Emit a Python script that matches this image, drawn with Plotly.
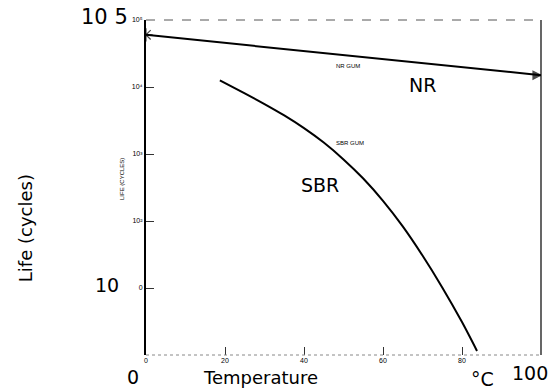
import math
import plotly.graph_objects as go

# Data
nr_temp = [0, 100]
nr_life = [60000, 15000]

sbr_temp = [18.7, 25, 30, 35, 40, 45, 50, 55, 60, 65, 70, 75, 80, 83.8]
sbr_life = [12600, 8040, 5560, 3760, 2430, 1480, 830, 430, 200, 83, 30.5, 10.2, 3.1, 1.15]

y_tickvals = [10, 100, 1000, 10000, 100000]
y_ticktext = ["0", "10²", "10³", "10⁴", "10⁵"]
x_tickvals = [0, 20, 40, 60, 80]
x_ticktext = ["0", "20", "40", "60", "80"]

fig = go.Figure()
fig.add_trace(go.Scatter(
    x=nr_temp, y=nr_life, mode="lines+markers",
    line=dict(color="black", width=2),
    marker=dict(symbol=["asterisk-open", "arrow-right"], size=[11, 8], color="black",
                line=dict(color="black", width=1.2)),
    showlegend=False))
fig.add_trace(go.Scatter(
    x=sbr_temp, y=sbr_life, mode="lines",
    line=dict(color="black", width=2, shape="spline", smoothing=0.8),
    showlegend=False))

small = dict(family="Liberation Sans", size=7, color="black")
fig.update_xaxes(range=[0, 100], tickvals=x_tickvals, ticktext=x_ticktext, ticks="inside",
                 ticklen=8, tickcolor="#333", tickfont=small, showgrid=False, zeroline=False,
                 showline=False)
fig.update_yaxes(type="log", range=[0, 5], tickvals=y_tickvals, ticktext=y_ticktext,
                 ticks="inside", ticklen=8, tickcolor="#333", tickfont=small, showgrid=False,
                 zeroline=False, showline=True, linecolor="black", linewidth=2, mirror=False)

big = dict(family="DejaVu Sans", size=19, color="black")
gum = dict(family="Liberation Sans", size=6, color="black")
ann = [
    dict(x=70.1, y=math.log10(10700), text="NR", xref="x", yref="y", font=big),
    dict(x=44, y=math.log10(345), text="SBR", xref="x", yref="y", font=big),
    dict(x=51.1, y=math.log10(20400), text="NR GUM", xref="x", yref="y", font=gum),
    dict(x=51.6, y=math.log10(1450), text="SBR GUM", xref="x", yref="y", font=gum),
    dict(x=-0.061, y=0.525, text="LIFE (CYCLES)", xref="paper", yref="paper", textangle=-90,
         font=dict(family="Liberation Sans", size=6, color="black")),
    dict(x=-0.104, y=1.01, text="10 5", xref="paper", yref="paper",
         font=dict(family="DejaVu Sans", size=21, color="black")),
    dict(x=-0.099, y=0.209, text="10", xref="paper", yref="paper", font=big),
    dict(x=-0.033, y=-0.066, text="0", xref="paper", yref="paper", font=big),
    dict(x=0.291, y=-0.066, text="Temperature", xref="paper", yref="paper",
         font=dict(family="DejaVu Sans", size=18, color="black")),
    dict(x=0.853, y=-0.072, text="°C", xref="paper", yref="paper", font=big),
    dict(x=0.972, y=-0.054, text="100", xref="paper", yref="paper", font=big),
    dict(x=-0.306, y=0.379, text="Life (cycles)", xref="paper", yref="paper", textangle=-90,
         font=dict(family="DejaVu Sans", size=18, color="black")),
]
for a in ann:
    a["showarrow"] = False
    a["xanchor"] = "center"
    a["yanchor"] = "middle"
fig.update_layout(annotations=ann)

# frame: thin right side, dashed top, dotted bottom
fig.add_shape(type="line", xref="paper", yref="paper", x0=1, x1=1, y0=0, y1=1,
              line=dict(color="black", width=1.2))
fig.add_shape(type="line", xref="paper", yref="paper", x0=0, x1=1, y0=1, y1=1,
              line=dict(color="#555", width=1, dash="dash"))
fig.add_shape(type="line", xref="paper", yref="paper", x0=0, x1=1, y0=0, y1=0,
              line=dict(color="#888", width=1, dash="dot"))

fig.update_layout(width=553, height=392, margin=dict(l=146, r=12, t=20, b=37),
                  paper_bgcolor="white", plot_bgcolor="white")
fig.write_html("out.html")
